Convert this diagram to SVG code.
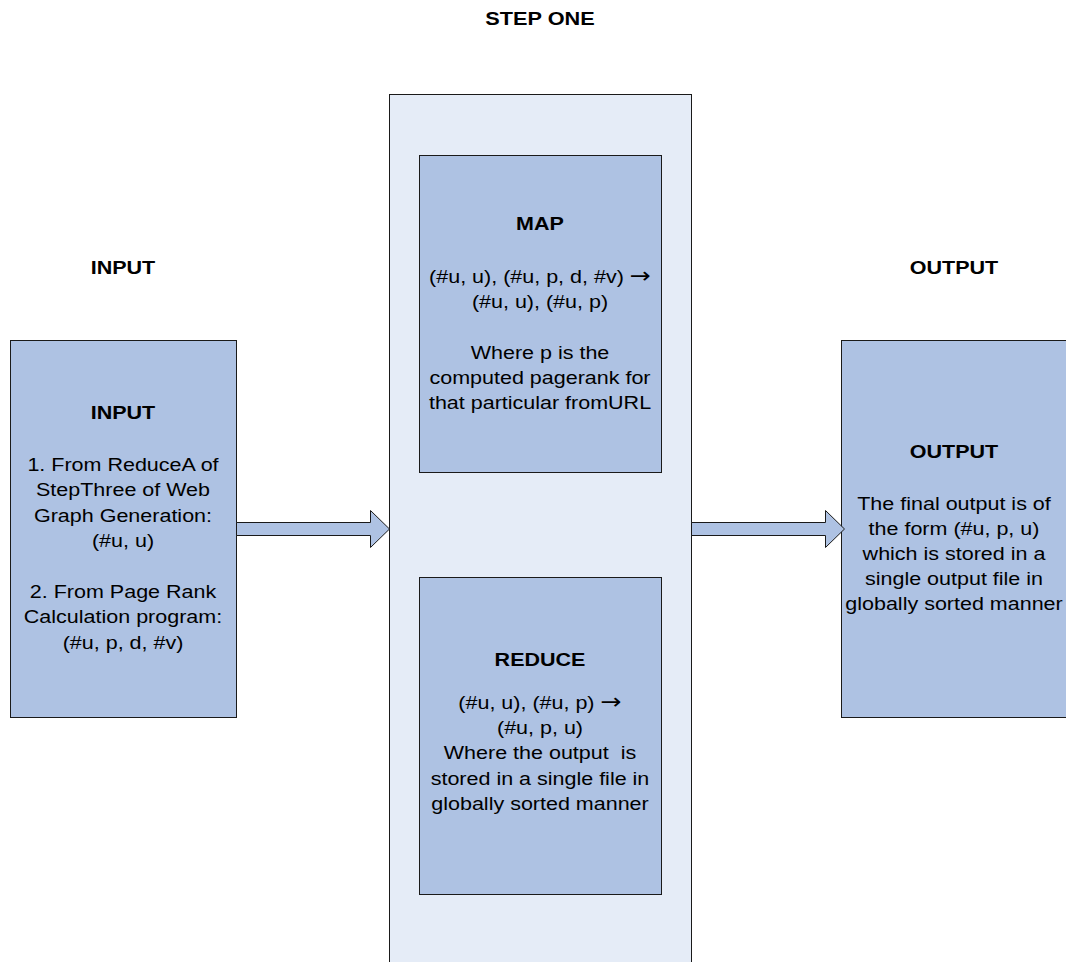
<svg xmlns="http://www.w3.org/2000/svg" width="1066" height="962" viewBox="0 0 1066 962">
<style>
.bg{fill:#ffffff}
.container{fill:#e5ecf7;stroke:#1a1a1a;stroke-width:1}
.box{fill:#aec2e3;stroke:#1a1a1a;stroke-width:1}
.arrow{fill:#aec2e3;stroke:#1a1a1a;stroke-width:1;stroke-linejoin:miter}
text{font-family:"Liberation Sans",Arial,sans-serif;font-size:18.7px;fill:#000;text-anchor:middle}
.b{font-weight:bold}
.ar{font-family:"DejaVu Sans",sans-serif;font-size:22px}
</style>
<rect class="bg" x="0" y="0" width="1066" height="962"/>
<g id="labels">
<g transform="translate(540 0) scale(1.16 1)"><text class="b" x="0" y="25">STEP ONE</text></g>
<g transform="translate(123 0) scale(1.15 1)"><text class="b" x="0" y="274">INPUT</text></g>
<g transform="translate(954 0) scale(1.15 1)"><text class="b" x="0" y="274">OUTPUT</text></g>
</g>
<g id="step-one">
<rect class="container" x="389.5" y="94.5" width="302" height="880"/>
</g>
<g id="map">
<rect class="box" x="419.5" y="155.5" width="242" height="317"/>
<g transform="translate(540 0) scale(1.15 1)">
<text class="b" x="0" y="230">MAP</text>
<text x="0" y="283">(#u, u), (#u, p, d, #v) <tspan class="ar">→</tspan></text>
<text x="0" y="308">(#u, u), (#u, p)</text>
<text x="0" y="359">Where p is the</text>
<text x="0" y="384">computed pagerank for</text>
<text x="0" y="409">that particular fromURL</text>
</g>
</g>
<g id="reduce">
<rect class="box" x="419.5" y="577.5" width="242" height="317"/>
<g transform="translate(540 0) scale(1.15 1)">
<text class="b" x="0" y="666">REDUCE</text>
<text x="0" y="709">(#u, u), (#u, p) <tspan class="ar">→</tspan></text>
<text x="0" y="734">(#u, p, u)</text>
<text x="0" y="759" xml:space="preserve">Where the output  is</text>
<text x="0" y="785">stored in a single file in</text>
<text x="0" y="810">globally sorted manner</text>
</g>
</g>
<g id="input">
<rect class="box" x="10.5" y="340.5" width="226" height="377"/>
<g transform="translate(123 0) scale(1.15 1)">
<text class="b" x="0" y="419">INPUT</text>
<text x="0" y="471">1. From ReduceA of</text>
<text x="0" y="496.5">StepThree of Web</text>
<text x="0" y="522">Graph Generation:</text>
<text x="0" y="547">(#u, u)</text>
<text x="0" y="598">2. From Page Rank</text>
<text x="0" y="623.5">Calculation program:</text>
<text x="0" y="649">(#u, p, d, #v)</text>
</g>
</g>
<g id="output">
<rect class="box" x="841.5" y="340.5" width="226" height="377"/>
<g transform="translate(954 0) scale(1.15 1)">
<text class="b" x="0" y="458">OUTPUT</text>
<text x="0" y="510">The final output is of</text>
<text x="0" y="535">the form (#u, p, u)</text>
<text x="0" y="560">which is stored in a</text>
<text x="0" y="585.5">single output file in</text>
<text x="0" y="610.5">globally sorted manner</text>
</g>
</g>
<g id="connectors">
<polygon class="arrow" points="236.5,522.5 370.5,522.5 370.5,510.5 389.5,529 370.5,547.5 370.5,535.5 236.5,535.5"/>
<polygon class="arrow" points="691.5,522.5 825.5,522.5 825.5,510.5 844.5,529 825.5,547.5 825.5,535.5 691.5,535.5"/>
</g>
</svg>
